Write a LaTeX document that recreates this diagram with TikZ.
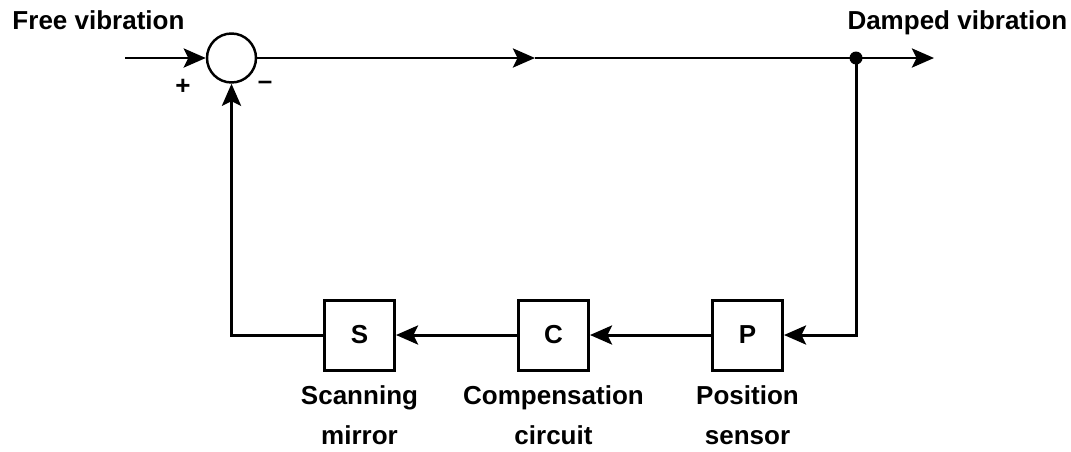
\documentclass[tikz,border=0pt]{standalone}
\usepackage{fontspec}
\setmainfont{Liberation Sans}
\usetikzlibrary{arrows.meta,positioning}

\begin{document}
\begin{tikzpicture}[
    font=\bfseries\fontsize{14.8}{22.7}\selectfont,
    line width=1.7pt,
    blk/.style={draw,minimum size=1.4cm,inner sep=0pt},
    lbl/.style={align=center,inner sep=0pt},
    tip/.style={-{Stealth[length=0.44cm,width=0.38cm,inset=0.09cm]}}
  ]
  \useasboundingbox (0,0) rectangle (21.42,9.02);
  % summing point and blocks
  \node[draw,circle,minimum size=0.98cm,inner sep=0pt,line width=1.4pt] (sum) at (4.63,7.86) {};
  \node[blk] (S) at (7.19,2.32) {S};
  \node[blk] (C) at (11.07,2.32) {C};
  \node[blk] (P) at (14.95,2.32) {P};
  \node[lbl,below=0.26cm of S] (Slbl) {Scanning\\mirror};
  \node[lbl,below=0.26cm of C] (Clbl) {Compensation\\circuit};
  \node[lbl,below=0.26cm of P] (Plbl) {Position\\sensor};
  \node[anchor=base west,inner sep=0pt] (free) at (0.22,8.44) {Free vibration};
  \node[anchor=base west,inner sep=0pt] (damped) at (16.92,8.44) {Damped vibration};
  \node (plus) at (3.66,7.28) {+};
  \node (minus) at (5.3,7.32) {\textendash};
  % forward path
  \coordinate (in) at (2.5,7.86);
  \coordinate (mid) at (10.7,7.86);
  \coordinate (jn) at (17.12,7.86);
  \coordinate (out) at (18.68,7.86);
  \draw[tip] (in) -- (sum.west);
  \draw[tip] (sum.east) -- (mid);
  \draw (mid) -- (jn);
  \draw[tip] (jn) -- (out);
  \fill (jn) circle (0.13);
  % feedback path
  \draw[tip] (jn) |- (P.east);
  \draw[tip] (P.west) -- (C.east);
  \draw[tip] (C.west) -- (S.east);
  \draw[tip] (S.west) -| (sum.south);
\end{tikzpicture}
\end{document}
